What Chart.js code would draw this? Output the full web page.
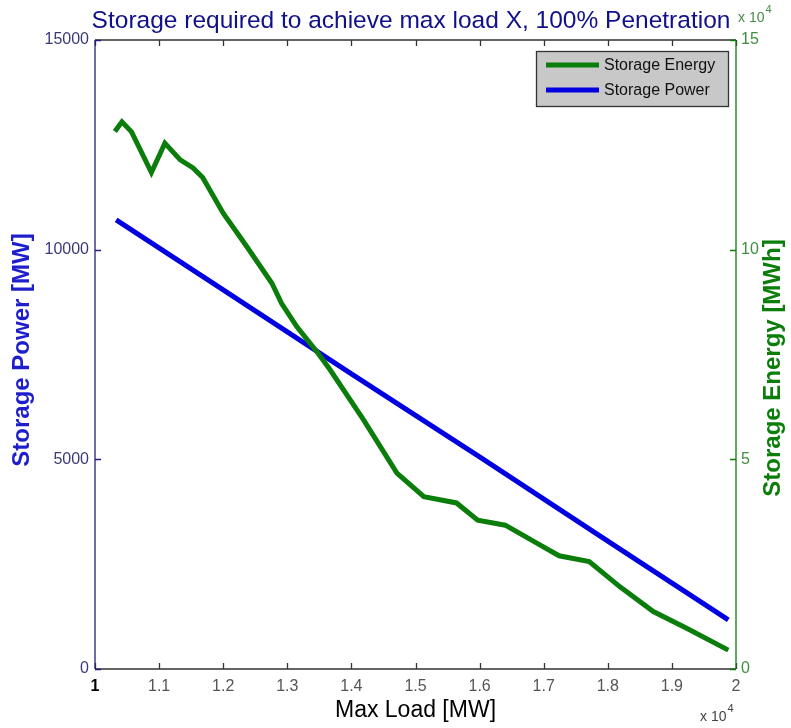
<!DOCTYPE html>
<html>
<head>
<meta charset="utf-8">
<title>Storage required to achieve max load X</title>
<script src="https://cdn.jsdelivr.net/npm/chart.js@4/dist/chart.umd.min.js"></script>
<style>
  html, body { margin: 0; padding: 0; background: #fff; }
  #wrap { width: 791px; height: 728px; position: relative; }
</style>
</head>
<body>
<div id="wrap"><canvas id="chart"></canvas></div>
<script>
'use strict';

// max load [MW] where storage energy was sampled
var energyLoad = [10310, 10420, 10570, 10880, 11090, 11330, 11530, 11680, 12000, 12370,
                  12760, 12910, 13150, 13480, 13670, 14190, 14710, 15130, 15640, 15970,
                  16400, 16940, 17240, 17710, 18190, 18710, 19230, 19880];
// storage energy [MWh]
var energyVals = [128200, 130500, 128100, 118400, 125400, 121400, 119500, 117200, 108700, 100700,
                  92000, 87200, 81600, 75300, 71300, 59400, 46700, 41100, 39600, 35500,
                  34300, 29600, 27000, 25600, 19600, 13700, 9700, 4500];
// storage power [MW]
var powerLoad = [10330, 12000, 14000, 16000, 18000, 19880];
var powerVals = [10710, 9040, 7040, 5060, 3050, 1170];

var xTicks = [10000, 11000, 12000, 13000, 14000, 15000, 16000, 17000, 18000, 19000, 20000];
var leftTicks = [0, 5000, 10000, 15000];
var rightTicks = [0, 50000, 100000, 150000];

var FONT = '"Liberation Sans", Arial, sans-serif';
var GREEN = '#0a7d0a';
var BLUE = '#0000e0';

function toPoints(xs, ys) {
  return xs.map(function (x, i) { return { x: x, y: ys[i] }; });
}

function fmtTen4(v) {
  var s = (v / 10000).toFixed(1);
  return s.replace(/\.0$/, '');
}

// title, axis titles, exponents, box, inward ticks and legend (matlab look)
var matlabDecor = {
  id: 'matlabDecor',
  beforeDraw: function (chart) {
    var c = chart.ctx;
    c.save();
    c.fillStyle = '#fff';
    c.fillRect(0, 0, chart.width, chart.height);
    c.restore();
  },
  afterDraw: function (chart) {
    var c = chart.ctx;
    var a = chart.chartArea;
    var sx = chart.scales.x, sy = chart.scales.y, sy1 = chart.scales.y1;
    var tl = 6;
    c.save();

    // box
    c.lineWidth = 1.3;
    c.strokeStyle = '#333';
    c.beginPath();
    c.moveTo(a.left, a.top); c.lineTo(a.right, a.top);
    c.moveTo(a.left, a.bottom); c.lineTo(a.right, a.bottom);
    xTicks.forEach(function (t) {
      var px = Math.round(sx.getPixelForValue(t)) + 0.5;
      c.moveTo(px, a.bottom); c.lineTo(px, a.bottom - tl);
      c.moveTo(px, a.top); c.lineTo(px, a.top + tl);
    });
    c.stroke();

    c.strokeStyle = '#20207a';
    c.beginPath();
    c.moveTo(a.left, a.top); c.lineTo(a.left, a.bottom);
    leftTicks.forEach(function (t) {
      var py = Math.round(sy.getPixelForValue(t)) + 0.5;
      c.moveTo(a.left, py); c.lineTo(a.left + tl, py);
    });
    c.stroke();

    c.strokeStyle = GREEN;
    c.beginPath();
    c.moveTo(a.right, a.top); c.lineTo(a.right, a.bottom);
    rightTicks.forEach(function (t) {
      var py = Math.round(sy1.getPixelForValue(t)) + 0.5;
      c.moveTo(a.right, py); c.lineTo(a.right - tl, py);
    });
    c.stroke();

    // title
    c.fillStyle = '#10108a';
    c.font = '24.5px ' + FONT;
    c.textAlign = 'center';
    c.textBaseline = 'alphabetic';
    c.fillText('Storage required to achieve max load X, 100% Penetration', 411, 28);

    // x title
    c.fillStyle = '#000';
    c.font = '23px ' + FONT;
    c.fillText('Max Load [MW]', (a.left + a.right) / 2, 717);

    // left y title
    c.save();
    c.translate(22, 350);
    c.rotate(-Math.PI / 2);
    c.fillStyle = '#1e1ecc';
    c.font = 'bold 24px ' + FONT;
    c.textBaseline = 'middle';
    c.fillText('Storage Power [MW]', 0, 0);
    c.restore();

    // right y title
    c.save();
    c.translate(773, 368);
    c.rotate(-Math.PI / 2);
    c.fillStyle = GREEN;
    c.font = 'bold 24px ' + FONT;
    c.textBaseline = 'middle';
    c.fillText('Storage Energy [MWh]', 0, 0);
    c.restore();

    // exponents
    function expo(x, y, color) {
      c.fillStyle = color;
      c.textAlign = 'left';
      c.textBaseline = 'alphabetic';
      c.font = '14px ' + FONT;
      c.fillText('x 10', x, y);
      var w = c.measureText('x 10').width;
      c.font = '11px ' + FONT;
      c.fillText('4', x + w + 1, y - 9);
    }
    expo(738, 22, '#4a8a4a');
    expo(700, 721, '#444');

    // legend
    var lx = 536, ly = 51, lw = 192, lh = 55;
    c.fillStyle = '#c8c8c8';
    c.fillRect(lx, ly, lw, lh);
    c.strokeStyle = '#333';
    c.lineWidth = 1.3;
    c.strokeRect(lx + 0.5, ly + 0.5, lw, lh);
    var items = [
      { label: 'Storage Energy', color: GREEN, y: ly + 14 },
      { label: 'Storage Power', color: BLUE, y: ly + 39 }
    ];
    items.forEach(function (it) {
      c.strokeStyle = it.color;
      c.lineWidth = 5;
      c.beginPath();
      c.moveTo(lx + 10, it.y); c.lineTo(lx + 63, it.y);
      c.stroke();
      c.fillStyle = '#111';
      c.font = '16px ' + FONT;
      c.textAlign = 'left';
      c.textBaseline = 'middle';
      c.fillText(it.label, lx + 68, it.y + 1);
    });

    c.restore();
  }
};

var ctx = document.getElementById('chart').getContext('2d');
new Chart(ctx, {
  type: 'line',
  data: {
    datasets: [
      {
        label: 'Storage Energy',
        data: toPoints(energyLoad, energyVals),
        yAxisID: 'y1',
        borderColor: GREEN,
        backgroundColor: GREEN,
        borderWidth: 5,
        pointRadius: 0,
        tension: 0,
        fill: false
      },
      {
        label: 'Storage Power',
        data: toPoints(powerLoad, powerVals),
        yAxisID: 'y',
        borderColor: BLUE,
        backgroundColor: BLUE,
        borderWidth: 5,
        pointRadius: 0,
        tension: 0,
        fill: false
      }
    ]
  },
  options: {
    responsive: true,
    maintainAspectRatio: false,
    animation: false,
    layout: { padding: { top: 40, left: 0, right: 0, bottom: 0 } },
    plugins: {
      legend: { display: false },
      tooltip: { enabled: false },
      title: { display: false }
    },
    scales: {
      x: {
        type: 'linear',
        min: 10000,
        max: 20000,
        afterFit: function (s) { s.height = 59; },
        afterBuildTicks: function (s) { s.ticks = xTicks.map(function (v) { return { value: v }; }); },
        grid: { display: false, drawTicks: false },
        border: { display: false },
        ticks: {
          padding: 8,
          maxRotation: 0,
          autoSkip: false,
          callback: function (v) { return fmtTen4(v); },
          color: function (c) { return c.index === 0 ? '#000' : '#555'; },
          font: function (c) {
            return c.index === 0 ? { family: FONT, size: 16, weight: 'bold' } : { family: FONT, size: 16 };
          }
        }
      },
      y: {
        position: 'left',
        min: 0,
        max: 15000,
        afterFit: function (s) { s.width = 95; },
        afterBuildTicks: function (s) { s.ticks = leftTicks.map(function (v) { return { value: v }; }); },
        grid: { display: false, drawTicks: false },
        border: { display: false },
        ticks: {
          padding: 6,
          color: '#3a3a78',
          font: { family: FONT, size: 16 },
          callback: function (v) { return String(v); }
        }
      },
      y1: {
        position: 'right',
        min: 0,
        max: 150000,
        afterFit: function (s) { s.width = 55; },
        afterBuildTicks: function (s) { s.ticks = rightTicks.map(function (v) { return { value: v }; }); },
        grid: { display: false, drawTicks: false },
        border: { display: false },
        ticks: {
          padding: 5,
          color: '#3f8f3f',
          font: { family: FONT, size: 16 },
          callback: function (v) { return fmtTen4(v); }
        }
      }
    }
  },
  plugins: [matlabDecor]
});
</script>
</body>
</html>
